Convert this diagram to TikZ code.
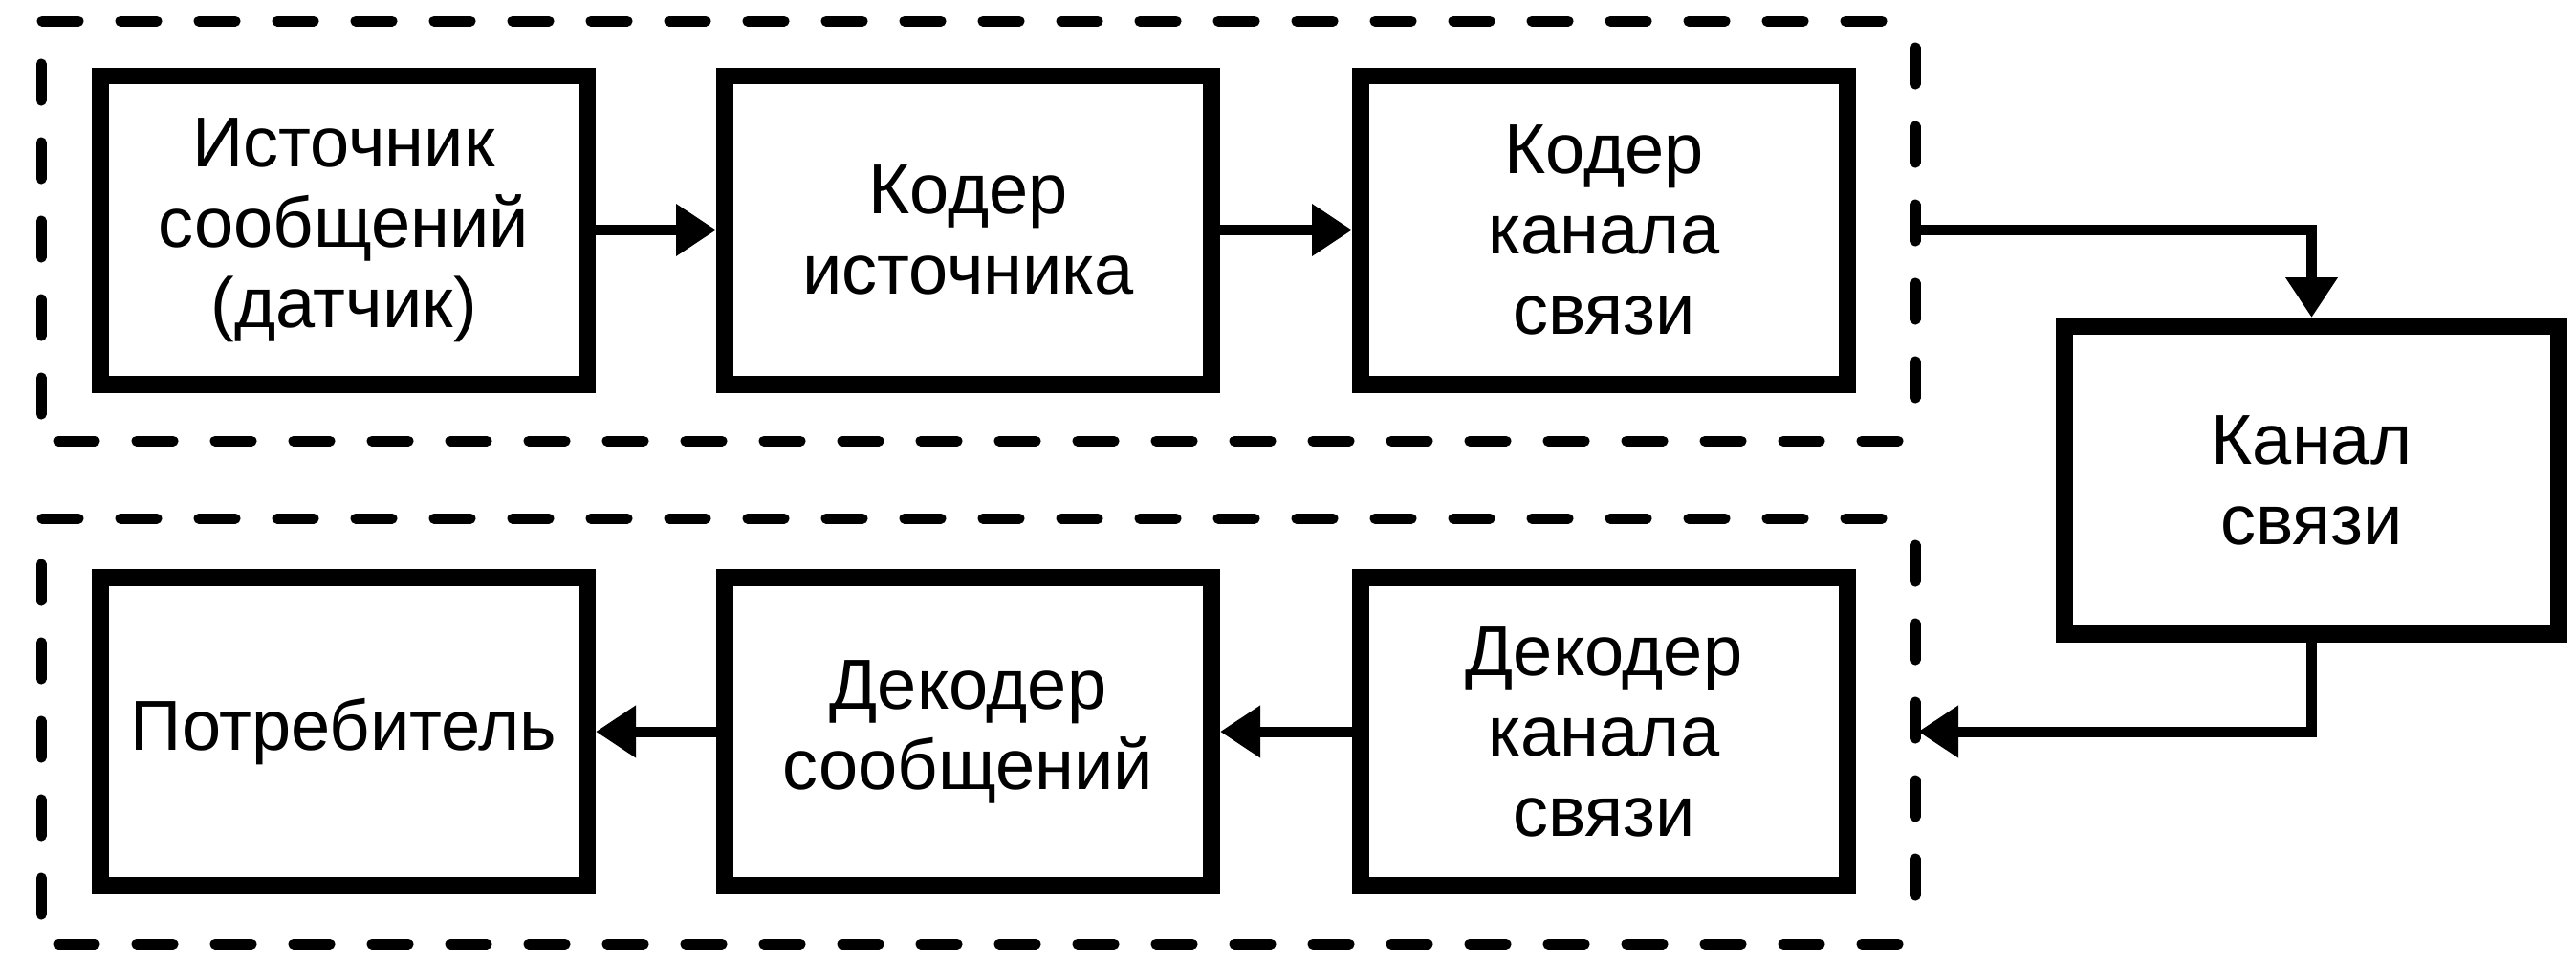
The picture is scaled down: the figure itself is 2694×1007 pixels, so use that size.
\documentclass[tikz,border=0pt]{standalone}
\usepackage{fontspec}
\setmainfont{Liberation Sans}
\usetikzlibrary{arrows.meta}
\begin{document}
\begin{tikzpicture}[x=0.25pt,y=-0.25pt,
  blk/.style={draw=black, line width=4.4pt, minimum width=127.35pt,
    minimum height=80.6pt, inner sep=0pt, align=center,
    font=\fontsize{18.5}{21}\selectfont},
  conn/.style={line width=2.75pt, -{Triangle[length=10.5pt,width=13pt]}},
  grp/.style={line width=2.75pt, line cap=round, dash pattern=on 9.5pt off 11pt}]
\useasboundingbox (0,0) rectangle (2694,1007);

% group frames
\draw[grp] (44,22) -- (1988,22);
\draw[grp] (61,461) -- (2003,461);
\draw[grp] (43,67) -- (43,435);
\draw[grp] (2003,50) -- (2003,417);
\draw[grp] (44,542) -- (1988,542);
\draw[grp] (61,987) -- (2002,987);
\draw[grp] (43,590) -- (43,962);
\draw[grp] (2003,570) -- (2003,944);

% blocks
\node[blk] (b1) at (359.5,240.5) {Источник\\сообщений\\(датчик)};
\node[blk] (b2) at (1012.5,240.5) {Кодер\\источника};
\node[blk] (b3) at (1677.5,240.5) {Кодер\\канала\\связи};
\node[blk, minimum width=129.35pt] (kan) at (2417.5,502) {Канал\\связи};
\node[blk] (d1) at (359.5,765) {Потребитель};
\node[blk] (d2) at (1012.5,765) {Декодер\\сообщений};
\node[blk] (d3) at (1677.5,765) {Декодер\\канала\\связи};

\coordinate (g1e) at (2003,240.5);
\coordinate (g2e) at (2006,765);

% connectors
\draw[conn] (b1) -- (b2);
\draw[conn] (b2) -- (b3);
\draw[conn] (g1e) -| (kan.north);
\draw[conn] (kan.south) |- (g2e);
\draw[conn] (d3) -- (d2);
\draw[conn] (d2) -- (d1);
\end{tikzpicture}
\end{document}
